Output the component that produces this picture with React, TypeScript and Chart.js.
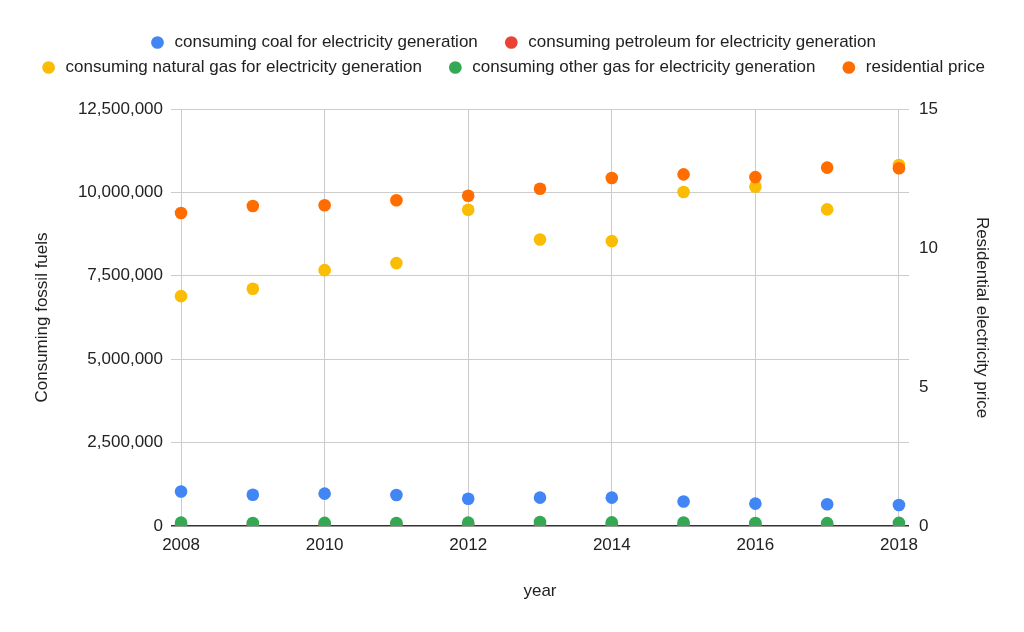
import { useEffect, useRef } from "react";
import { Chart, ChartConfiguration, registerables } from "chart.js";

Chart.register(...registerables);

const years = [2008, 2009, 2010, 2011, 2012, 2013, 2014, 2015, 2016, 2017, 2018];
const xTicks = [2008, 2010, 2012, 2014, 2016, 2018];

const coal = [1035000, 935000, 970000, 930000, 815000, 850000, 850000, 735000, 670000, 650000, 630000];
const petroleum = [40000, 35000, 35000, 28000, 22000, 25000, 28000, 26000, 22000, 20000, 18000];
const naturalGas = [6890000, 7110000, 7670000, 7880000, 9480000, 8590000, 8540000, 10010000, 10170000, 9490000, 10820000];
const otherGas = [100000, 90000, 95000, 90000, 100000, 120000, 110000, 105000, 90000, 85000, 95000];
const residentialPrice = [11.26, 11.51, 11.54, 11.72, 11.88, 12.13, 12.52, 12.65, 12.55, 12.89, 12.87];

const leftTicks = [0, 2500000, 5000000, 7500000, 10000000, 12500000];
const rightTicks = [0, 5, 10, 15];

const FONT = "'Liberation Sans', Arial, sans-serif";

export default function App() {
  const canvasRef = useRef<HTMLCanvasElement>(null);
  const chartRef = useRef<Chart | null>(null);

  useEffect(() => {
    if (!canvasRef.current) return;
    if (chartRef.current) chartRef.current.destroy();
    const ctx = canvasRef.current.getContext("2d");
    if (!ctx) return;

    const pts = (vals: number[]) => vals.map((v, i) => ({ x: years[i], y: v }));

    // order only controls drawing (lower = on top); legend keeps dataset order
    const series = [
      { label: "consuming coal for electricity generation", data: coal, color: "#4285f4", axis: "y", order: 2 },
      { label: "consuming petroleum for electricity generation", data: petroleum, color: "#ea4335", axis: "y", order: 3 },
      { label: "consuming natural gas for electricity generation", data: naturalGas, color: "#fbbc04", axis: "y", order: 4 },
      { label: "consuming other gas for electricity generation", data: otherGas, color: "#34a853", axis: "y", order: 1 },
      { label: "residential price", data: residentialPrice, color: "#ff6d01", axis: "y1", order: 0 },
    ];

    const datasets = series.map(s => ({
      label: s.label,
      data: pts(s.data),
      yAxisID: s.axis,
      order: s.order,
      backgroundColor: s.color,
      borderColor: s.color,
      pointRadius: 6.3,
      pointHoverRadius: 6.3,
      pointBorderWidth: 0,
      showLine: false,
    }));

    const tickFont = { family: FONT, size: 17 };

    const config: ChartConfiguration = {
      type: "scatter",
      data: { datasets } as any,
      options: {
        animation: false,
        responsive: true,
        maintainAspectRatio: false,
        layout: { padding: { top: 26, left: 18, right: 0, bottom: 0 } },
        plugins: {
          legend: {
            display: true,
            position: "top",
            labels: {
              font: { family: FONT, size: 17 },
              color: "#222",
              usePointStyle: true,
              pointStyle: "circle",
              boxWidth: 17,
              boxHeight: 9,
              padding: 8,
              sort: (a: any, b: any) => a.datasetIndex - b.datasetIndex,
              generateLabels: (chart: any) =>
                Chart.defaults.plugins.legend.labels
                  .generateLabels(chart)
                  .map((l: any) => ({ ...l, text: l.text + "\u2002\u2002" })),
            },
          },
          // empty spacer between legend and plot area
          subtitle: {
            display: true,
            text: "",
            position: "top",
            weight: 500,
            font: { size: 1, lineHeight: 1 },
            padding: { top: 0, bottom: 22 },
          } as any,
          tooltip: { enabled: false },
        },
        scales: {
          x: {
            type: "linear",
            min: 2007.86,
            max: 2018.14,
            afterBuildTicks: (scale: any) => {
              scale.ticks = xTicks.map(v => ({ value: v }));
            },
            afterFit: (scale: any) => {
              scale.height = 106;
            },
            grid: { color: "#cccccc", drawTicks: false, lineWidth: 1 },
            border: { display: false },
            ticks: {
              font: tickFont,
              color: "#222",
              padding: 9,
              maxRotation: 0,
              callback: (v: any) => String(v),
            },
            title: {
              display: true,
              text: "year",
              font: { family: FONT, size: 17 },
              color: "#222",
              padding: { top: 0, bottom: 30 },
            },
          },
          y: {
            type: "linear",
            position: "left",
            min: 0,
            max: 12500000,
            afterBuildTicks: (scale: any) => {
              scale.ticks = leftTicks.map(v => ({ value: v }));
            },
            afterFit: (scale: any) => {
              scale.width = 153;
            },
            grid: {
              color: (c: any) => (c.tick && c.tick.value === 0 ? "#333333" : "#cccccc"),
              lineWidth: (c: any) => (c.tick && c.tick.value === 0 ? 1.5 : 1),
              drawTicks: false,
            },
            border: { display: false },
            ticks: {
              font: tickFont,
              color: "#222",
              padding: 8,
              callback: (v: any) => Number(v).toLocaleString("en-US"),
            },
            title: {
              display: true,
              text: "Consuming fossil fuels",
              font: { family: FONT, size: 17 },
              color: "#222",
              padding: { top: 14, bottom: 0 },
            },
          },
          y1: {
            type: "linear",
            position: "right",
            min: 0,
            max: 15,
            afterBuildTicks: (scale: any) => {
              scale.ticks = rightTicks.map(v => ({ value: v }));
            },
            afterFit: (scale: any) => {
              scale.width = 115;
            },
            grid: { drawOnChartArea: false, drawTicks: false },
            border: { display: false },
            ticks: {
              font: tickFont,
              color: "#222",
              padding: 10,
            },
            title: {
              display: true,
              text: "Residential electricity price",
              font: { family: FONT, size: 17 },
              color: "#222",
              padding: { top: 32, bottom: 0 },
            },
          },
        },
      },
    };

    chartRef.current = new Chart(ctx, config);

    return () => {
      if (chartRef.current) {
        chartRef.current.destroy();
        chartRef.current = null;
      }
    };
  }, []);

  return (
    <div style={{ position: "absolute", left: 0, top: 0, width: 1024, height: 632, background: "#fff" }}>
      <canvas ref={canvasRef} />
    </div>
  );
}
